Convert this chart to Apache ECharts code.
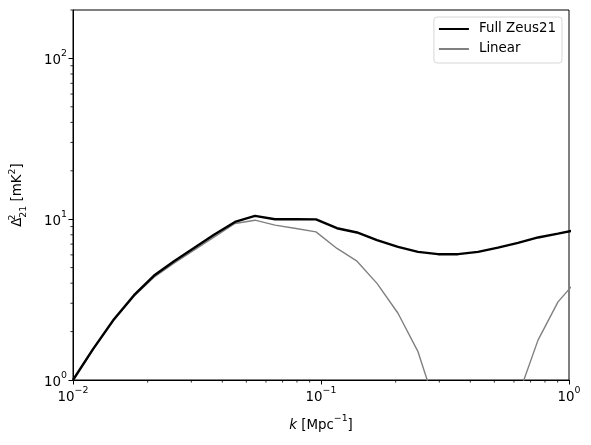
<!DOCTYPE html>
<html>
<head>
<meta charset="utf-8">
<script src="https://cdn.jsdelivr.net/npm/echarts@6/dist/echarts.min.js"></script>
<style>
  html, body { margin: 0; padding: 0; background: #fff; }
  #chart { width: 591px; height: 445px; }
</style>
</head>
<body>
<div id="chart"></div>
<script>
// k values (Mpc^-1)
const kValues = [0.01, 0.01204, 0.01463, 0.01762, 0.02122, 0.02555, 0.03076, 0.03703, 0.04499,
  0.05418, 0.06524, 0.07928, 0.09546, 0.1160, 0.1397, 0.1682, 0.2044, 0.2461, 0.2964,
  0.3568, 0.4297, 0.5173, 0.6229, 0.750, 0.903, 1.087];
// Delta^2_21 [mK^2]
const fullZeus21 = [1.00, 1.557, 2.39, 3.37, 4.46, 5.48, 6.61, 8.01, 9.62,
  10.48, 10.0, 10.0, 9.98, 8.79, 8.27, 7.41, 6.73, 6.26, 6.06,
  6.06, 6.26, 6.65, 7.12, 7.70, 8.13, 8.61];
const linear = [1.00, 1.54, 2.36, 3.32, 4.36, 5.33, 6.42, 7.73, 9.40,
  9.86, 9.18, 8.75, 8.34, 6.58, 5.48, 3.99, 2.60, 1.50, 0.62,
  0.25, 0.12, 0.30, 0.79, 1.77, 3.06, 4.25];

const minorXTicks = [0.02, 0.03, 0.04, 0.05, 0.06, 0.07, 0.08, 0.09,
  0.2, 0.3, 0.4, 0.5, 0.6, 0.7, 0.8, 0.9];
const minorYTicks = [2, 3, 4, 5, 6, 7, 8, 9, 20, 30, 40, 50, 60, 70, 80, 90, 200];

const FONT = 'DejaVu Sans';
const FS = 13.4;
const SFS = 9.4;

function powLabel(value) {
  let e = Math.log10(value);
  if (Math.abs(e - Math.round(e)) > 1e-6) return '';
  e = Math.round(e);
  let s = e < 0 ? '\u2212' + (-e) : String(e);
  return '{b|10}{s|' + s + '}';
}
const powRich = {
  b: { fontFamily: FONT, fontSize: FS, color: '#000', lineHeight: 18, verticalAlign: 'bottom' },
  s: { fontFamily: FONT, fontSize: SFS, color: '#000', lineHeight: 18, verticalAlign: 'top' }
};

// minor ticks at 2..9 x 10^n, placed through the axes
function tickRenderer(dir) {
  return function (params, api) {
    let p = dir === 'x' ? api.coord([api.value(0), 1]) : api.coord([0.01, api.value(1)]);
    let shape = dir === 'x'
      ? { x1: p[0], y1: p[1], x2: p[0], y2: p[1] + 2.6 }
      : { x1: p[0], y1: p[1], x2: p[0] - 2.6, y2: p[1] };
    return { type: 'line', shape: shape, style: { stroke: '#000', lineWidth: 0.8 } };
  };
}

let myChart = echarts.init(document.getElementById('chart'));
let options = {
  animation: false,
  textStyle: { fontFamily: FONT },
  grid: {
    left: 73, right: 22, top: 10, bottom: 65,
    show: true, borderColor: '#000', borderWidth: 1, backgroundColor: 'transparent'
  },
  legend: {
    orient: 'vertical',
    right: 29, top: 17,
    data: ['Full Zeus21', 'Linear'],
    itemWidth: 30, itemHeight: 2, itemGap: 5,
    padding: [4.5, 6, 6.5, 4],
    backgroundColor: '#fff',
    borderColor: '#d6d6d6', borderWidth: 1, borderRadius: 3,
    textStyle: { fontFamily: FONT, fontSize: FS, color: '#000', padding: [0, 0, 0, 5], lineHeight: 15 }
  },
  xAxis: {
    type: 'log', logBase: 10, min: 0.01, max: 1,
    name: '{i|k}{d| [Mpc}{s|\u22121}{d|]}',
    nameLocation: 'middle', nameGap: 34,
    nameTextStyle: {
      rich: {
        i: { fontFamily: FONT, fontSize: FS, fontStyle: 'italic', color: '#000', lineHeight: 18, verticalAlign: 'bottom' },
        d: { fontFamily: FONT, fontSize: FS, color: '#000', lineHeight: 18, verticalAlign: 'bottom' },
        s: { fontFamily: FONT, fontSize: SFS, color: '#000', lineHeight: 18, verticalAlign: 'top' }
      },
      fontFamily: FONT, fontSize: FS, color: '#000'
    },
    axisLine: { show: true, onZero: false, lineStyle: { color: '#000', width: 1 } },
    axisTick: { show: true, inside: false, length: 4.5, lineStyle: { color: '#000', width: 1 } },
    axisLabel: { margin: 6, formatter: powLabel, rich: powRich, showMaxLabel: true },
    splitLine: { show: false }
  },
  yAxis: {
    type: 'log', logBase: 10, min: 1, max: 200,
    name: '{d|\u0394}{s|2}{b|21}{d| [mK}{t|2}{d|]}',
    nameLocation: 'middle', nameRotate: 90, nameGap: 45,
    nameTextStyle: {
      rich: {
        d: { fontFamily: FONT, fontSize: FS, color: '#000', lineHeight: 20, verticalAlign: 'middle' },
        s: { fontFamily: FONT, fontSize: SFS, color: '#000', lineHeight: 20, verticalAlign: 'top', width: 0 },
        b: { fontFamily: FONT, fontSize: SFS, color: '#000', lineHeight: 20, verticalAlign: 'bottom' },
        t: { fontFamily: FONT, fontSize: SFS, color: '#000', lineHeight: 20, verticalAlign: 'top' }
      }
    },
    axisLine: { show: true, lineStyle: { color: '#000', width: 1 } },
    axisTick: { show: true, inside: false, length: 4.5, lineStyle: { color: '#000', width: 1 } },
    axisLabel: { margin: 6, formatter: powLabel, rich: powRich, showMaxLabel: false },
    splitLine: { show: false }
  },
  series: [
    {
      name: 'Full Zeus21',
      type: 'line',
      data: kValues.map((k, i) => [k, fullZeus21[i]]),
      symbol: 'none',
      color: '#000',
      lineStyle: { width: 2.4, color: '#000' },
      clip: true,
      z: 3
    },
    {
      name: 'Linear',
      type: 'line',
      data: kValues.map((k, i) => [k, linear[i]]),
      symbol: 'none',
      color: '#808080',
      lineStyle: { width: 1.4, color: '#808080' },
      clip: true,
      z: 2
    },
    {
      type: 'custom',
      silent: true,
      data: minorXTicks.map(k => [k, 1]),
      renderItem: tickRenderer('x'),
      clip: false
    },
    {
      type: 'custom',
      silent: true,
      data: minorYTicks.map(v => [0.01, v]),
      renderItem: tickRenderer('y'),
      clip: false
    }
  ]
};
myChart.setOption(options);
</script>
</body>
</html>
